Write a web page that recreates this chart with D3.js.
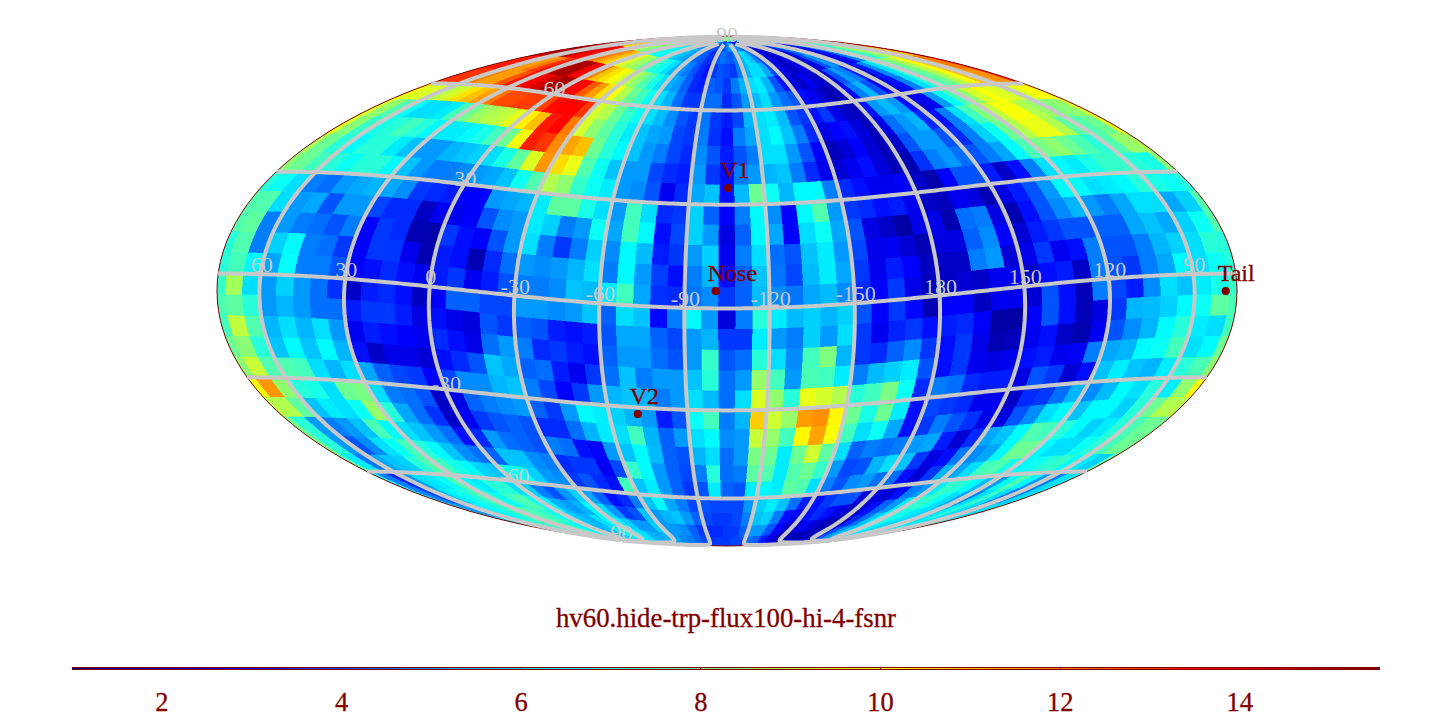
<!DOCTYPE html>
<html><head><meta charset="utf-8">
<script src="https://cdn.jsdelivr.net/npm/d3@7"></script>
<style>html,body{margin:0;padding:0;background:#fff;overflow:hidden}svg{display:block}text{font-family:"Liberation Serif",serif}</style>
</head><body><div id="c"></div>
<script>
// Values per 6x6 degree sky pixel: each row runs along one ecliptic latitude band (north to south),
// each entry runs across the map from left to right.
const row00=[8,9,10,9.5,9,8.5,8,7.5,7.2,7, 6.8,6.6,6.4,6.2,6,6,5.8,5.6,5.4,5.2, 5,4.8,4.6,4.4,4.2,4,3.8,3.6,3.6,4, 4.5,5,5.5,5.5,5,4.5,4,3.5,3,3, 3,2.8,2.8,3,3.5,4,4.5,4.5,4,4, 4.5,5,5.6,6,6.4,6.8,7.2,7.6,8,8];
const row01=[13,13.5,13.7,13,12,11,10.5,10,9.6,9, 8.6,8.2,7.8,7.5,7,6.6,6.4,6.2,6,5.8, 5.5,5.2,5,4.6,4.2,4,3.5,3.5,4,4.5, 4.2,4,4.6,5.4,6,5.6,4.6,3.6,2.8,2.4, 2,2.4,2.4,2,2.4,3.6,4.6,4.4,3.4,2.6, 3,4.4,5.6,6.2,6.8,7.4,8,9,9.6,10];
const row02=[14,14.8,15,15,14.6,14,13.6,13.5,12.5,12, 11.5,11,10.5,10,9.5,9,8.6,8,7.4,7, 6.6,6,5.4,5,4.6,4,3.4,3,3.6,4, 3.8,3.6,4.6,5.4,6,6,5.2,3.8,2.8,2.2, 1.9,2.4,2.4,2,2.4,4,5,4.4,3.2,2.4, 3,4.6,5.8,6.6,7.2,8,8.8,9.6,10.6,11];
const row03=[13,13.4,13.4,12,11.5,12,13,13.7,14.5,15, 15,14,13.7,12,11,10.5,10,9.5,9,8.4, 7.6,6.8,6,5.4,5,4.2,3.4,3.2,4.2,4, 3.6,4.6,5.4,6,6.2,5.4,4,3,2.4,2, 2.6,2.2,1.9,2.4,4,5,4.6,3.2,2.2,3.2, 4.8,6,7,7.6,8.2,9,10,11,11.6,12];
const row04=[13,13,13,12,11.5,11.5,12.5,13.4,13.7,14, 14.4,15,15,13.8,13.7,12.5,11.5,10.5,10,9, 8,7.4,6.6,6,5.4,4.4,3.6,3.6,4.4,4.4, 3.4,4,5,5.5,6,5,4.4,4,3,2.6, 2.2,1.7,1.8,2.8,4.6,5.4,4,2.6,2.4,3, 4.6,6,7,7.6,8,9,10,11,11.5,11.7];
const row05=[10,9.6,9.6,9,9.5,10.5,11,11.5,12,12.7, 12.7,12.9,12.9,12.8,13.6,13.7,13.7,13,9.5,9, 8,7.2,6.6,6,5.5,4.8,4,3.6,4.5,3.6, 3.2,3.8,5.4,6,6.2,5.5,4,3.6,3,3.6, 2.5,2,1.8,3,5,5.5,5,3,2.4,2.6, 5,6.4,7.5,8.5,9.5,10,9.7,9.4,9.6,10];
const row06=[9.6,8.6,7.6,6.6,6,6,6.2,7.4,8,8.7, 9,9.2,9.7,10.3,11,13.4,13.7,12,9.5,8.5, 7.8,7,6.2,5.6,5.2,5,3.8,3.6,4.6,3.5, 3,4.6,5.2,6,6.4,5.6,4.6,3.4,2.4,2.8, 3,2.3,1.8,2.5,4.4,5,5.4,3.4,3,4.6, 6,7.4,8.3,9.2,10,10,9,8.6,8.3,8.5];
const row07=[9.6,8.4,7.2,6.8,7,7.4,7,6.4,6.2,6.2, 6.4,6.8,7.4,8,10,13.3,13,11.8,11.4,11, 8,7,6.4,5.6,5,4.6,3.8,3.4,4.8,4, 3.2,4,4.6,6,6,5,4,2.8,1.8,2.2, 2.8,2.2,1.8,2,4,5,5,4,3.4,4.6, 5.8,6.6,8,9,9.8,9.8,9,7.8,7.6,8];
const row08=[8.8,8,7,6.4,7,7,6.2,5.6,5,5, 5.4,5.6,5.8,6,6.8,7.8,9.6,11.6,10.6,9.8, 7.6,6.6,5.6,5,5,3.8,3.4,3.2,5,3.6, 3,4.6,5,5.4,5.6,4.6,3.4,2.5,2.2,2.6, 3,2.3,1.8,1.7,3.5,4.6,5,4.4,4,4.6, 5.2,6.4,7.5,8.2,8.5,8,7.5,7,7.6,8.6];
const row09=[8.4,8,7.4,7,6.6,7,7,6.4,5.6,5, 4.6,4.6,4.8,5,5.2,5.6,6.6,7.6,9,8.5, 7.2,6.6,6.2,5,4.8,4,2.6,3.4,5.2,5.6, 3,5.5,8,6.6,5.4,6.4,6.4,4.6,3.4,3, 2.6,2.6,2.8,2,1.6,2.8,4,4,3.2,2, 3,4.6,6,6.4,6.2,6.8,7.2,7.2,7,6.8];
const row10=[7,6.6,6,4.6,4.4,5,5.2,5.4,5.2,4.8, 3.6,3.4,3.2,2.8,2.8,5,5.2,5.4,6.2,7.8, 7.8,6.8,6,5,7.4,6,3.4,3.6,5.8,4.2, 2.8,4.6,6.4,4.8,2.8,6.4,7.6,5,3.6,3.4, 3,3.2,2.6,2,1.8,2.6,2.4,1.7,2.4,3.2, 4,5,6.4,6.4,6,6.2,6.4,7,6.8,6.6];
const row11=[7.6,7.6,6,5,5.2,4,5,5,3.8,3.4, 3.4,1.9,2.6,2.6,2.8,4,4.8,5,6.2,5.8, 4.6,5,6.6,5.2,7.4,6.4,3,3.8,5.8,5, 2.4,4.2,6.4,5.2,2.8,6,6.6,5.2,4,2.4, 2,1.5,2.5,2.5,1.7,4.4,4.6,2.4,1.7,3, 4,4.8,5.4,5,4.6,5.2,6,6,5.2,5.8];
const row12=[7.6,7.8,4.6,5,4.6,4.4,4,4.6,2.8,3.6, 3.4,1.7,1.6,3.6,3,2.8,4,5,6,4.6, 3.6,4.6,5.8,4.8,6.4,5.5,3.2,3.6,5,5.8, 2.6,4.6,6,4.4,4,5.6,6.2,5,3.8,2.5, 2.6,2.2,1.7,2.4,2.4,4.2,4.8,2.8,2.2,3.2, 3.6,4,4,4.2,4.2,5.2,5.6,5.2,5.8,6.6];
const row13=[7,7.6,4.6,5.8,6.4,4.6,4.4,3.6,2.8,3.6, 3.6,2.6,1.7,3.2,3,1.7,3.4,4.4,5,4.8, 5,5.4,6,4.6,6.4,5,3.7,3,4.6,5.4, 3,4.2,5.6,4.5,3.8,5.5,6.2,5.2,3.6,2.6, 3.2,2.8,1.9,2,2,4.6,5,2.2,2.5,3.6, 2.6,3,4.6,4,4,4.6,5.4,5.8,6,7];
const row14=[7,7.4,6.4,5.2,6.5,4.6,4.6,4,2.8,3, 3.4,3,2.6,3.2,3.6,2.6,3.2,4,4.6,4.6, 4.8,5.6,5.5,6.2,7.4,5.2,3.5,3.4,4.5,4.8, 3.6,4.2,5.5,4.8,4.5,5.2,5.5,4.8,3.4,2.8, 3.6,2.5,1.8,1.9,2.2,2,2.6,2.6,2,3, 3.2,2,4.6,4,3.6,4.6,5.2,6.4,6,6.6];
const row15=[7.2,8.8,6,5,5.8,5,4.4,3.5,2,3.2, 3.4,3,1.9,2.8,4.2,4.2,3.8,3.8,5,5, 4.8,5,5.6,4.2,6,5.6,2.9,4.6,6.4,5, 2.3,4.6,7,6.2,5.5,5.8,5.4,5.8,4,2.8, 3.6,2.9,1.7,2.8,2.8,1.9,2.6,2.6,2.2,4, 3,1.8,4.6,3.8,3.2,4.8,6,5.6,6.2,6.8];
const row16=[7.5,7.8,7,5,5.4,5,4.4,4.4,3.2,3.6, 3.6,3.2,2.4,3,2.5,2.3,4,3.6,4.2,4, 3.2,3,3.2,4,5.2,5.2,4.2,3.8,5,5.4, 3.6,3.6,6.2,5,4.6,5.8,5,6,3.6,2.6, 3.3,3.6,3,3.2,3.4,2.8,1.5,1.5,2.8,4, 3,1.8,2.4,3.6,5.4,5.5,5.8,6.4,6.6,7.8];
const row17=[7.4,9.2,7.6,5.4,6,5.4,6,5,2.6,3.2, 3,2.8,2.6,3.4,3,2.5,4.4,5,4.6,3.4, 3.6,3.2,3,4.2,5,5,4.4,4,5,7.2, 4,4.4,7,6,4.8,7.4,8.3,5.4,3.6,3.4, 4.2,4.8,3.6,3,3.6,2.5,1.7,1.8,2.6,3, 2,1.7,2.6,4,4.8,5.4,6.4,7,6.2,6];
const row18=[8,8.4,7,5.6,6.4,5.6,6.4,5.4,3,2, 2.5,2.5,2.2,3,3.4,4,5.6,5.2,4.2,4.4, 3.2,2.6,3.6,4.4,5.6,4.6,5,5,5.6,7, 4.4,5,8.6,7.4,5,7.5,7.4,6.2,4.6,5.5, 5.8,6.2,4,3,3.6,2.6,2.4,2.6,3,3.2, 2.6,2.7,4.6,5.2,5.4,6.4,6.6,7.4,6,6.4];
const row19=[8.4,9.3,7.6,7.6,7.4,6,5.4,6,5.2,4.2, 3.8,3.6,2.8,3.8,4.8,4.8,5.4,5.6,4.6,3.8, 2.8,3.6,5,5.4,5.6,5.4,4.6,5,6,5.5, 4.4,6,9.6,8.5,7,9.8,9.5,9,7,7.4, 8.2,6.6,3.4,4.6,4.4,3.4,3.2,3.2,2.4,4, 3.6,2.2,3,5.6,6.2,5.6,5.4,6.2,7,7.5];
const row20=[10,11.6,8.5,7,6.8,6,8,8.2,6,4.6, 4.4,4,2,2.4,4.2,4.6,4.8,5,4.2,3.6, 5,6.4,6.2,5.8,5.4,5,3.2,4,6.6,7.4, 4.6,5.4,10.8,9.4,8.6,11.5,11.7,10.2,8,6.8, 8,6.2,3,3.8,3.6,3.4,2.6,2.6,2,3.4, 3.6,4.4,5.4,4.8,5.5,6.4,6,7,6.2,8.5];
const row21=[9,9,7.8,5.6,6.2,6,6.6,8.6,7,5.2, 4.4,3.5,2,2.6,3.6,4,4.2,4,3.4,3.4, 4.4,5.4,6.2,6,7.4,5.4,4.2,5,6,6.4, 4.8,5,9.3,8.6,7.4,10.2,11.4,10,7.4,6, 6.6,5.2,3,3.6,4.6,4,3.5,2.5,2.4,4, 4.8,6,6.4,5.6,6.4,6.4,5.8,7,8,9];
const row22=[8,7,5,4.6,5,5.6,7.5,6.4,6,5.6, 5,4.4,3,3.4,5,4.4,4.2,4,4.6,4.4, 3,2.8,5,5.6,6.4,5.5,4.2,4,5.4,6, 4.4,5,8.2,8,6.2,8,9.4,7.8,6,4.2, 4.6,4.4,4.6,5,5.2,3.2,2.2,3.4,5.2,5.6, 6.4,7.6,7.4,7,6.4,5.8,6.2,7,7.5,8];
const row23=[8,7,5,4,4.8,6,6.6,7.4,7,6.4, 5.6,4.8,4.4,4.2,5.6,5.6,4.8,4.6,3.4,3.6, 3.6,2.6,3.8,7.2,6.4,5,4.2,3.8,4.6,7, 4.4,4.6,7.8,7.6,6.2,7.6,8,7.2,5,3.8, 4,5.4,6,5.6,3.6,2.4,3,4.6,4.8,5.2, 6.4,8,8,6.4,6,6,6.6,7,7.4,8];
const row24=[7.6,6.2,4.5,5.2,5.6,5.8,7,7.6,7.4,6.8, 6.4,5.8,5.6,6.6,6.6,5.8,5,4.8,3.6,4, 3.4,3,7.4,5.6,6.2,5,4.2,3.6,4,6.2, 4.2,4,6.2,6.4,6.2,7.8,7.6,6,4.6,4, 4.8,5,4.4,4.4,3,2.2,3.6,5.4,5.2,6, 7.4,7.6,6.8,6.4,6.6,7,7.2,6.5,6.2,5.8];
const row25=[6.6,4.6,3.4,5,6,6.2,6.6,7.5,6.5,6.2, 7,7,6,5.8,4.6,4,5,5.8,5.2,4.2, 3,3.4,4.6,5.6,6.4,5.2,4.6,3.8,4,3.8, 3.8,3.8,5,5.8,6.2,5.6,4.4,3.2,3,3.6, 4,4,2.2,2.4,2.2,3,4.6,5,6.2,7.2, 7,6.4,5.5,5,6.4,7.5,6.4,5,4.6,6];
const row26=[6.5,4.6,3.6,5.4,6.2,6.6,7,7.6,7,6.6, 7.4,7.6,6.6,6.4,5.4,5,5.4,6.4,6,5, 3.6,4,5.6,5,5.4,5.6,5,4.2,3.8,3.6, 3.6,3.8,4.6,5.6,5.8,4.6,3,2.6,3,3.4, 3,2.4,2,2.2,3,4.2,5,6.2,7,7.2, 6.6,6,5.2,4.6,6,7.2,6,4.4,4.4,5.8];
const row27=[7,5,4.4,5.6,6.4,6.6,7,7.4,7.6,7.6, 7.4,7,6.6,6,5.6,5.4,6,6.6,6.4,5.8, 5,5,5.8,5,5,4.8,4.2,3.6,3.4,3.4, 3.6,3.6,4.2,5,5,4,2.8,2,2.4,2.6, 2.2,1.8,1.6,2,3.4,4.4,5.6,6.4,6.8,6.8, 6.2,6,5.6,5.4,6.2,7,6,5,5,6];
const row28=[7,6,6,6.4,7,7,7.4,7.8,8,7.6, 7,6.6,6,5.6,5.4,5.6,6.4,6.6,6.4,6, 5.4,5.2,5.4,5.2,4.8,4.6,4.2,3.8,3.6,3.6, 3.6,3.8,3.8,4.4,4.2,3.2,2.4,1.8,1.8,1.8, 1.8,1.8,2.2,3,4,5,5.6,6.2,6.4,6.4, 6,5.8,5.6,5.6,6,6.4,6,5.4,5.6,6.2];
const row29=[6.5,6,6,6.2,6.4,6.6,6.8,7,7,7, 6.8,6.4,6,5.8,5.6,5.8,6,6.2,6.2,6, 5.6,5.4,5.2,5,4.8,4.6,4.2,4,3.8,3.8, 4,3.8,3.6,4,3.8,3.2,2.6,2.2,2,2, 2,2.2,2.6,3.2,4,4.8,5.4,5.8,6,6, 5.8,5.8,5.6,5.6,5.8,6,6,5.8,6,6.2];
const rows=[row00,row01,row02,row03,row04,row05,row06,row07,row08,row09,row10,row11,row12,row13,row14,row15,row16,row17,row18,row19,row20,row21,row22,row23,row24,row25,row26,row27,row28,row29];

const lonTicks=[60,30,0,-30,-60,-90,-120,-150,180,150,120,90];
const latTicks=[60,30,-30,-60];
const barTicks=[2,4,6,8,10,12,14];
const places=[{name:"Nose",lon:-101,lat:5},{name:"Tail",lon:79,lat:-5},{name:"V1",lon:-105.5,lat:35},{name:"V2",lon:-71,lat:-32}];
const title="hv60.hide-trp-flux100-hi-4-fsnr";
const vMin=1, vMax=15.56;

const W=1452,H=728,RED="#800000",GREY="#c8c8c8";
const svg=d3.select("#c").append("svg").attr("width",W).attr("height",H);
svg.append("rect").attr("width",W).attr("height",H).attr("fill","#fff");

function mollweideRaw(l,p){
  let t=p; const k=Math.PI*Math.sin(p);
  if(Math.abs(Math.abs(p)-Math.PI/2)<1e-9){t=p;}
  else for(let n=0;n<40;n++){const d=(t*2+Math.sin(2*t)-k)/(2+2*Math.cos(2*t));t-=d;if(Math.abs(d)<1e-9)break;}
  return [2*Math.SQRT2/Math.PI*l*Math.cos(t),Math.SQRT2*Math.sin(t)];
}
const projection=d3.geoProjection(mollweideRaw).scale(510/(2*Math.SQRT2)).translate([727,291]).rotate([105,-5]).reflectX(true).precision(0.3);
const path=d3.geoPath(projection);

const t=v=>vMin+(vMax-vMin)*v;
const jet=d3.scaleLinear().domain([t(0),t(.125),t(.375),t(.625),t(.875),t(1)]).range(["#000083","#0000ff","#00ffff","#ffff00","#ff0000","#800000"]).clamp(true);

const cell=(hi,lo,top,bot)=>{
  const west=lo,east=hi,ring=[];
  const n=Math.max(bot,-89.99),s=Math.min(top,89.99);
  d3.range(0,7).forEach(k=>ring.push([west,n+(s-n)*k/6]));
  d3.range(1,7).forEach(k=>ring.push([west+k,s]));
  d3.range(1,7).forEach(k=>ring.push([east,s-(s-n)*k/6]));
  d3.range(1,6).forEach(k=>ring.push([east-k,n]));
  ring.push(ring[0]);
  return {type:"Polygon",coordinates:[ring]};
};
const cells=[];
rows.forEach((r,j)=>r.forEach((v,i)=>{
  cells.push({v,geo:cell(78-6*i,72-6*i,90-6*j,84-6*j)});
}));
svg.append("g").attr("shape-rendering","crispEdges").selectAll("path").data(cells).join("path")
  .attr("d",d=>path(d.geo)).attr("fill",d=>jet(d.v)).attr("stroke",d=>jet(d.v)).attr("stroke-width",0.4);

svg.append("path").attr("d",path({type:"Sphere"})).attr("fill","none").attr("stroke",RED).attr("stroke-width",1);

const grat=svg.append("g").attr("fill","none").attr("stroke",GREY).attr("stroke-width",4);
lonTicks.forEach(lon=>grat.append("path").attr("d",path({type:"LineString",coordinates:d3.range(-89.9,90,2).map(a=>[lon,a])})));
[0,...latTicks].forEach(lat=>grat.append("path").attr("d",path({type:"LineString",coordinates:d3.range(-180,180.5,1).map(a=>[a,lat])})));

const lab=svg.append("g").attr("fill",GREY).attr("font-size",22).attr("text-anchor","middle");
lonTicks.forEach(lon=>{const p=projection([lon,0]);lab.append("text").attr("x",p[0]+1).attr("y",p[1]-2).text(lon);});
latTicks.forEach(lat=>{const p=projection([0,lat]);lab.append("text").attr("x",p[0]+1).attr("y",p[1]+2).text(lat);});
[[-105,89.99],[74.9,-89.99]].forEach(c=>{const p=projection(c);lab.append("text").attr("x",p[0]).attr("y",p[1]).text(90);});

const mk=svg.append("g").attr("fill",RED).attr("stroke",RED).attr("stroke-width",0.3);
places.forEach(d=>{const p=projection([d.lon,d.lat]);
  mk.append("circle").attr("cx",p[0]).attr("cy",p[1]).attr("r",4);
  mk.append("text").attr("x",p[0]-8).attr("y",p[1]-10).attr("font-size",24).text(d.name);
});

svg.append("text").attr("x",726).attr("y",627).attr("text-anchor","middle").attr("font-size",26.8).attr("fill",RED).attr("stroke",RED).attr("stroke-width",0.3).text(title);

const bx=d3.scaleLinear().domain([vMin,vMax]).range([72,1380]);
const bar=svg.append("g").attr("shape-rendering","crispEdges");
bar.append("rect").attr("x",72).attr("y",667).attr("width",1308).attr("height",3).attr("fill",RED);
bar.selectAll("rect.c").data(d3.range(vMin,vMax-0.04,0.05)).join("rect").attr("class","c").attr("x",d=>bx(d)).attr("y",668).attr("width",bx(vMin+0.05)-bx(vMin)+.5).attr("height",1).attr("fill",d=>jet(d));
barTicks.forEach(v=>{
  bar.append("rect").attr("x",bx(v)-.5).attr("y",667).attr("width",1).attr("height",3).attr("fill",RED);
  bar.append("text").attr("x",bx(v)).attr("y",711).attr("text-anchor","middle").attr("font-size",26.5).attr("fill",RED).attr("stroke",RED).attr("stroke-width",0.3).text(v);
});
</script></body></html>
